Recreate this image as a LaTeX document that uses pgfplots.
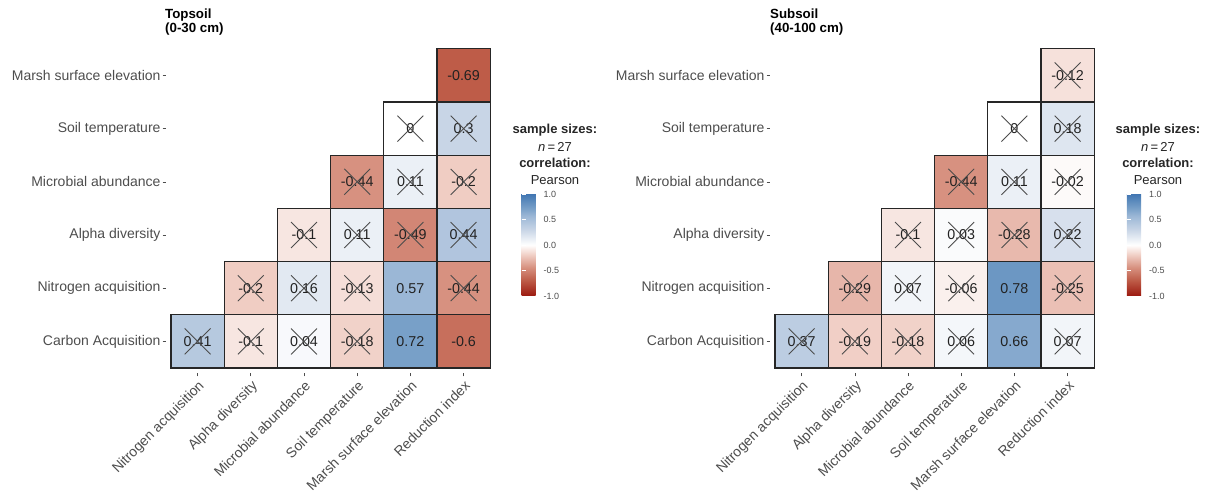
\documentclass[border=0pt]{standalone}
\usepackage{pgfplots}
\pgfplotsset{compat=1.18}
\usepackage{fontspec}
\setmainfont{Liberation Sans}
\definecolor{gray30}{HTML}{4D4D4D}
\definecolor{celltext}{HTML}{222222}
\newcommand{\labfont}{\fontsize{14bp}{16bp}\selectfont}
\newcommand{\cellfont}{\fontsize{14.3bp}{16bp}\selectfont}

\pgfplotsset{
  corrmap/.style={
    colormap={rwb}{rgb255(0cm)=(155,25,15); rgb255(31cm)=(190,92,72); rgb255(56cm)=(215,145,128); rgb255(80cm)=(240,205,195); rgb255(100cm)=(255,255,255); rgb255(130cm)=(200,213,230); rgb255(157cm)=(155,183,214); rgb255(172cm)=(120,160,200); rgb255(200cm)=(65,118,178)},
    point meta min=-1, point meta max=1,
  },
  corrpanel/.style={
    corrmap,
    anchor=south west,
    scale only axis,
    width=329.84bp, height=329.84bp,
    xmin=0.4, xmax=6.6, ymin=0.4, ymax=6.6,
    clip=false,
    axis line style={draw=none},
    xtick={1,...,6}, ytick={1,...,6},
    xticklabels={Nitrogen acquisition, Alpha diversity, Microbial abundance, Soil temperature, Marsh surface elevation, Reduction index},
    yticklabels={Carbon Acquisition, Nitrogen acquisition, Alpha diversity, Microbial abundance, Soil temperature, Marsh surface elevation},
    tick align=outside,
    major tick length=3bp,
    tick style={gray30, line width=0.6bp},
    xtick pos=lower, ytick pos=left,
    xticklabel style={rotate=45, anchor=north east, font=\labfont, text=gray30, inner sep=2bp},
    yticklabel style={font=\labfont, text=gray30, inner sep=2bp},
    colorbar,
    colorbar style={
      anchor=north west,
      width=20bp, height=102bp,
      scale only axis,
      ytick={-1,-0.5,0,0.5,1},
      yticklabels={-1.0,-0.5,0.0,0.5,1.0},
      yticklabel style={font=\fontsize{9bp}{10bp}\selectfont, text=gray30, inner sep=2bp},
      tick align=inside,
      major tick length=4bp,
      tick style={white, line width=0.8bp},
      axis line style={draw=none},
    },
  },
  mycells/.style={
    scatter, only marks, mark=square*, mark size=26.6bp,
    point meta=explicit,
    scatter/use mapped color={draw=black!85, fill=mapped color, line width=1.1bp},
  },
  mylabels/.style={
    draw=none, mark=none,
    point meta=explicit symbolic,
    nodes near coords,
    every node near coord/.append style={anchor=center, text=celltext, font=\cellfont, inner sep=0pt},
  },
  mycross/.style={
    only marks, mark=x, mark size=18.3bp,
    mark options={draw=black!70, line width=0.9bp},
  },
}

\begin{document}
\begin{tikzpicture}
\path[use as bounding box] (0,0) rectangle (1208bp,494bp);

\begin{axis}[corrpanel, at={(165.68bp,120.68bp)},
  colorbar style={at={(parent axis.north east)}, xshift=17.5bp, yshift=-150.5bp}]
  \addplot[mycells] coordinates {
    (6,6) [-0.69]
    (5,5) [0] (6,5) [0.3]
    (4,4) [-0.44] (5,4) [0.11] (6,4) [-0.2]
    (3,3) [-0.1] (4,3) [0.11] (5,3) [-0.49] (6,3) [0.44]
    (2,2) [-0.2] (3,2) [0.16] (4,2) [-0.13] (5,2) [0.57] (6,2) [-0.44]
    (1,1) [0.41] (2,1) [-0.1] (3,1) [0.04] (4,1) [-0.18] (5,1) [0.72] (6,1) [-0.6]
  };
  \addplot[mylabels] coordinates {
    (6,6) [-0.69]
    (5,5) [0] (6,5) [0.3]
    (4,4) [-0.44] (5,4) [0.11] (6,4) [-0.2]
    (3,3) [-0.1] (4,3) [0.11] (5,3) [-0.49] (6,3) [0.44]
    (2,2) [-0.2] (3,2) [0.16] (4,2) [-0.13] (5,2) [0.57] (6,2) [-0.44]
    (1,1) [0.41] (2,1) [-0.1] (3,1) [0.04] (4,1) [-0.18] (5,1) [0.72] (6,1) [-0.6]
  };
  \addplot[mycross] coordinates {
    (5,5) (6,5)
    (4,4) (5,4) (6,4)
    (3,3) (4,3) (5,3) (6,3)
    (2,2) (3,2) (4,2) (6,2)
    (1,1) (2,1) (3,1) (4,1)
  };
\end{axis}

\begin{axis}[corrpanel, at={(769.68bp,120.68bp)},
  colorbar style={at={(parent axis.north east)}, xshift=18.8bp, yshift=-150.5bp}]
  \addplot[mycells] coordinates {
    (6,6) [-0.12]
    (5,5) [0] (6,5) [0.18]
    (4,4) [-0.44] (5,4) [0.11] (6,4) [-0.02]
    (3,3) [-0.1] (4,3) [0.03] (5,3) [-0.28] (6,3) [0.22]
    (2,2) [-0.29] (3,2) [0.07] (4,2) [-0.06] (5,2) [0.78] (6,2) [-0.25]
    (1,1) [0.37] (2,1) [-0.19] (3,1) [-0.18] (4,1) [0.06] (5,1) [0.66] (6,1) [0.07]
  };
  \addplot[mylabels] coordinates {
    (6,6) [-0.12]
    (5,5) [0] (6,5) [0.18]
    (4,4) [-0.44] (5,4) [0.11] (6,4) [-0.02]
    (3,3) [-0.1] (4,3) [0.03] (5,3) [-0.28] (6,3) [0.22]
    (2,2) [-0.29] (3,2) [0.07] (4,2) [-0.06] (5,2) [0.78] (6,2) [-0.25]
    (1,1) [0.37] (2,1) [-0.19] (3,1) [-0.18] (4,1) [0.06] (5,1) [0.66] (6,1) [0.07]
  };
  \addplot[mycross] coordinates {
    (6,6)
    (5,5) (6,5)
    (4,4) (5,4) (6,4)
    (3,3) (4,3) (5,3) (6,3)
    (2,2) (3,2) (4,2) (6,2)
    (1,1) (2,1) (3,1) (4,1) (6,1)
  };
\end{axis}

\node[anchor=north west, align=left, inner sep=0pt, font=\bfseries\fontsize{13.3bp}{14bp}\selectfont] at (165bp,485bp) {Topsoil\\(0-30 cm)};
\node[anchor=north west, align=left, inner sep=0pt, font=\bfseries\fontsize{13.3bp}{14bp}\selectfont] at (770bp,485bp) {Subsoil\\(40-100 cm)};

\foreach \cx in {555bp, 1158bp} {
  \node[font=\bfseries\fontsize{13bp}{14bp}\selectfont, text=black!85] at (\cx,364bp) {sample sizes:};
  \node[font=\fontsize{13bp}{14bp}\selectfont, text=black!85] at (\cx,347bp) {\textit{n}\,=\,27};
  \node[font=\bfseries\fontsize{13bp}{14bp}\selectfont, text=black!85] at (\cx,331bp) {correlation:};
  \node[font=\fontsize{13bp}{14bp}\selectfont, text=black!85] at (\cx,314bp) {Pearson};
}
\end{tikzpicture}
\end{document}
